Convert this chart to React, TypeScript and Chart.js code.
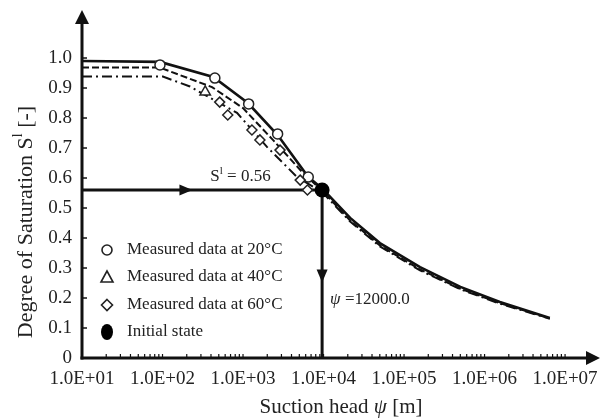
import React, { useEffect, useRef } from 'react';
import { Chart, registerables } from 'chart.js';

Chart.register(...registerables);

const FONT = '"Liberation Serif", "Times New Roman", serif';

// Axis ticks
const X_TICKS = [1e1, 1e2, 1e3, 1e4, 1e5, 1e6, 1e7];
const Y_TICKS = [0, 0.1, 0.2, 0.3, 0.4, 0.5, 0.6, 0.7, 0.8, 0.9, 1.0];

// Model curves (suction head psi [m], degree of saturation S)
const PSI_20C_MODEL = [10, 93, 427, 1150, 2690, 6460, 9600, 21400, 50100, 158000, 501000, 1550000, 6460000];
const S_20C_MODEL = [0.99, 0.987, 0.937, 0.85, 0.743, 0.603, 0.565, 0.467, 0.383, 0.303, 0.237, 0.187, 0.133];
const PSI_40C_MODEL = [10, 93, 412, 1000, 2350, 5560, 9600, 21400, 50100, 158000, 501000, 1550000, 6460000];
const S_40C_MODEL = [0.968, 0.968, 0.903, 0.833, 0.727, 0.617, 0.558, 0.458, 0.375, 0.295, 0.231, 0.183, 0.132];
const PSI_60C_MODEL = [10, 101, 219, 842, 1995, 4700, 9600, 21400, 50100, 158000, 501000, 1550000, 6460000];
const S_60C_MODEL = [0.938, 0.938, 0.905, 0.817, 0.703, 0.603, 0.553, 0.455, 0.372, 0.292, 0.229, 0.181, 0.131];

// Measured data
const PSI_20C = [93, 447, 1175, 2690, 6460];
const S_20C = [0.977, 0.933, 0.847, 0.747, 0.603];
const PSI_40C = [339];
const S_40C = [0.887];
const PSI_60C = [513, 646, 1290, 1620, 2880, 5130, 6310];
const S_60C = [0.853, 0.81, 0.76, 0.727, 0.693, 0.593, 0.56];

// Initial state
const INITIAL_PSI = 9600;
const INITIAL_S = 0.56;

const LEGEND_LABELS = ['Measured data at 20°C', 'Measured data at 40°C', 'Measured data at 60°C', 'Initial state'];

const zip = (xs: number[], ys: number[]) => xs.map((x, i) => ({ x, y: ys[i] }));

type Seg = { t: string; sup?: boolean; italic?: boolean };

function drawRich(ctx: CanvasRenderingContext2D, segs: Seg[], x: number, y: number, align: 'left' | 'center', size: number) {
  const fontFor = (s: Seg) => `${s.italic ? 'italic ' : ''}${s.sup ? Math.round(size * 0.62) : size}px ${FONT}`;
  const widths = segs.map((s) => {
    ctx.font = fontFor(s);
    return ctx.measureText(s.t).width;
  });
  const total = widths.reduce((a, b) => a + b, 0);
  let cx = align === 'center' ? x - total / 2 : x;
  ctx.textAlign = 'left';
  ctx.textBaseline = 'middle';
  segs.forEach((s, i) => {
    ctx.font = fontFor(s);
    ctx.fillText(s.t, cx, s.sup ? y - size * 0.33 : y);
    cx += widths[i];
  });
}

const decorPlugin = {
  id: 'decor',
  afterDraw(chart: any) {
    const { ctx, chartArea: ca, scales } = chart;
    const xs = scales.x;
    const ys = scales.y;
    ctx.save();
    ctx.strokeStyle = '#111';
    ctx.fillStyle = '#111';

    // Axes
    ctx.lineWidth = 3;
    ctx.beginPath();
    ctx.moveTo(ca.left, ca.bottom + 1.5);
    ctx.lineTo(ca.left, ca.top + 8);
    ctx.stroke();
    ctx.beginPath();
    ctx.moveTo(ca.left - 1.5, ca.bottom);
    ctx.lineTo(ca.right - 4, ca.bottom);
    ctx.stroke();
    // arrow heads
    ctx.beginPath();
    ctx.moveTo(ca.left, ca.top - 4);
    ctx.lineTo(ca.left - 7, ca.top + 10);
    ctx.lineTo(ca.left + 7, ca.top + 10);
    ctx.closePath();
    ctx.fill();
    ctx.beginPath();
    ctx.moveTo(ca.right + 8, ca.bottom);
    ctx.lineTo(ca.right - 6, ca.bottom - 7);
    ctx.lineTo(ca.right - 6, ca.bottom + 7);
    ctx.closePath();
    ctx.fill();

    // y tick marks (inside)
    ctx.lineWidth = 1.5;
    Y_TICKS.forEach((v) => {
      if (v === 0) return;
      const py = ys.getPixelForValue(v);
      ctx.beginPath();
      ctx.moveTo(ca.left, py);
      ctx.lineTo(ca.left + 5, py);
      ctx.stroke();
    });
    // x minor tick marks (inside)
    ctx.lineWidth = 1.2;
    for (let k = 1; k <= 6; k++) {
      for (let m = 1; m <= 9; m++) {
        const v = m * Math.pow(10, k);
        if (v === 10) continue;
        const px = xs.getPixelForValue(v);
        ctx.beginPath();
        ctx.moveTo(px, ca.bottom);
        ctx.lineTo(px, ca.bottom - 4);
        ctx.stroke();
      }
    }
    {
      const px = xs.getPixelForValue(1e7);
      ctx.beginPath();
      ctx.moveTo(px, ca.bottom);
      ctx.lineTo(px, ca.bottom - 4);
      ctx.stroke();
    }

    // Guide arrow heads
    const px0 = xs.getPixelForValue(INITIAL_PSI);
    const py0 = ys.getPixelForValue(INITIAL_S);
    const hx = ca.left + 0.46 * (px0 - ca.left);
    ctx.beginPath();
    ctx.moveTo(hx, py0);
    ctx.lineTo(hx - 13, py0 - 5.5);
    ctx.lineTo(hx - 13, py0 + 5.5);
    ctx.closePath();
    ctx.fill();
    const vy = py0 + 0.55 * (ca.bottom - py0);
    ctx.beginPath();
    ctx.moveTo(px0, vy);
    ctx.lineTo(px0 - 5.5, vy - 13);
    ctx.lineTo(px0 + 5.5, vy - 13);
    ctx.closePath();
    ctx.fill();

    // Annotations
    ctx.fillStyle = '#222';
    drawRich(ctx, [{ t: 'S' }, { t: 'l', sup: true }, { t: ' = 0.56' }], ca.left + 0.66 * (px0 - ca.left), py0 - 13, 'center', 17);
    drawRich(ctx, [{ t: 'ψ', italic: true }, { t: ' =12000.0' }], px0 + 8, ys.getPixelForValue(0.194), 'left', 17);

    // Legend
    const legY = [250, 277, 305, 332];
    const mx = 107;
    ctx.lineWidth = 1.6;
    ctx.strokeStyle = '#222';
    // circle
    ctx.beginPath();
    ctx.arc(mx, legY[0], 5, 0, Math.PI * 2);
    ctx.fillStyle = '#fff';
    ctx.fill();
    ctx.stroke();
    // triangle
    ctx.beginPath();
    ctx.moveTo(mx, legY[1] - 6);
    ctx.lineTo(mx - 6, legY[1] + 5);
    ctx.lineTo(mx + 6, legY[1] + 5);
    ctx.closePath();
    ctx.stroke();
    // diamond
    ctx.beginPath();
    ctx.moveTo(mx, legY[2] - 5.5);
    ctx.lineTo(mx + 5.5, legY[2]);
    ctx.lineTo(mx, legY[2] + 5.5);
    ctx.lineTo(mx - 5.5, legY[2]);
    ctx.closePath();
    ctx.stroke();
    // filled circle
    ctx.beginPath();
    ctx.fillStyle = '#000';
    ctx.ellipse(mx, legY[3], 6, 8, 0, 0, Math.PI * 2);
    ctx.fill();
    ctx.fillStyle = '#222';
    LEGEND_LABELS.forEach((lab, i) => {
      drawRich(ctx, [{ t: lab }], 127, legY[i], 'left', 17);
    });

    // Axis titles
    drawRich(ctx, [{ t: 'Suction head ' }, { t: 'ψ', italic: true }, { t: ' [m]' }], (ca.left + ca.right + 8) / 2, 407, 'center', 21);
    ctx.save();
    ctx.translate(26, 222);
    ctx.rotate(-Math.PI / 2);
    drawRich(ctx, [{ t: 'Degree of Saturation S' }, { t: 'l', sup: true }, { t: ' [-]' }], 0, 0, 'center', 22);
    ctx.restore();

    ctx.restore();
  },
};

export default function App() {
  const ref = useRef<HTMLCanvasElement | null>(null);

  useEffect(() => {
    document.body.style.margin = '0';
    const canvas = ref.current;
    if (!canvas) return;
    const lineBase = { showLine: true, pointRadius: 0, borderColor: '#111', fill: false, tension: 0 };
    const chart = new Chart(canvas, {
      type: 'scatter',
      data: {
        datasets: [
          { ...lineBase, label: 'Model 20°C', data: zip(PSI_20C_MODEL, S_20C_MODEL), borderWidth: 2.6, order: 8 },
          { ...lineBase, label: 'Model 40°C', data: zip(PSI_40C_MODEL, S_40C_MODEL), borderWidth: 2, borderDash: [7, 3], order: 9 },
          { ...lineBase, label: 'Model 60°C', data: zip(PSI_60C_MODEL, S_60C_MODEL), borderWidth: 2, borderDash: [10, 4, 2, 4], order: 10 },
          {
            ...lineBase,
            label: 'guide S',
            data: [{ x: 10, y: INITIAL_S }, { x: INITIAL_PSI, y: INITIAL_S }],
            borderWidth: 3,
            order: 6,
          },
          {
            ...lineBase,
            label: 'guide psi',
            data: [{ x: INITIAL_PSI, y: INITIAL_S }, { x: INITIAL_PSI, y: 0 }],
            borderWidth: 3,
            order: 7,
          },
          {
            label: LEGEND_LABELS[0],
            data: zip(PSI_20C, S_20C),
            showLine: false,
            pointStyle: 'circle',
            pointRadius: 5,
            pointBackgroundColor: '#fff',
            pointBorderColor: '#222',
            pointBorderWidth: 1.5,
            order: 3,
          },
          {
            label: LEGEND_LABELS[1],
            data: zip(PSI_40C, S_40C),
            showLine: false,
            pointStyle: 'triangle',
            pointRadius: 6,
            pointBackgroundColor: '#fff',
            pointBorderColor: '#222',
            pointBorderWidth: 1.5,
            order: 4,
          },
          {
            label: LEGEND_LABELS[2],
            data: zip(PSI_60C, S_60C),
            showLine: false,
            pointStyle: 'rectRot',
            pointRadius: 5,
            pointBackgroundColor: '#fff',
            pointBorderColor: '#222',
            pointBorderWidth: 1.5,
            order: 2,
          },
          {
            label: LEGEND_LABELS[3],
            data: [{ x: INITIAL_PSI, y: INITIAL_S }],
            showLine: false,
            pointStyle: 'circle',
            pointRadius: 7.5,
            pointBackgroundColor: '#000',
            pointBorderColor: '#000',
            pointBorderWidth: 0,
            order: 0,
          },
        ] as any,
      },
      options: {
        responsive: false,
        maintainAspectRatio: false,
        animation: false,
        events: [],
        layout: { padding: { left: 0, right: 22, top: 14, bottom: 0 } },
        plugins: { legend: { display: false }, tooltip: { enabled: false }, title: { display: false } },
        scales: {
          x: {
            type: 'logarithmic',
            min: 10,
            max: 2.16e7,
            grid: { display: false, drawTicks: false },
            border: { display: false },
            afterBuildTicks: (s: any) => {
              s.ticks = X_TICKS.map((v) => ({ value: v }));
            },
            afterFit: (s: any) => {
              s.height = 61;
              s.paddingLeft = 0;
              s.paddingRight = 0;
              s.paddingTop = 0;
              s.paddingBottom = 0;
            },
            ticks: {
              autoSkip: false,
              maxRotation: 0,
              minRotation: 0,
              padding: 10,
              color: '#222',
              font: { family: FONT, size: 19 },
              callback: (v: any) => '1.0E+' + String(Math.round(Math.log10(Number(v)))).padStart(2, '0'),
            },
          },
          y: {
            type: 'linear',
            min: 0,
            max: 1.1467,
            grid: { display: false, drawTicks: false },
            border: { display: false },
            afterBuildTicks: (s: any) => {
              s.ticks = Y_TICKS.map((v) => ({ value: v }));
            },
            afterFit: (s: any) => {
              s.width = 82;
              s.paddingLeft = 0;
              s.paddingRight = 0;
              s.paddingTop = 0;
              s.paddingBottom = 0;
            },
            ticks: {
              autoSkip: false,
              padding: 10,
              color: '#222',
              font: { family: FONT, size: 19 },
              callback: (v: any) => (Number(v) === 0 ? '0' : Number(v).toFixed(1)),
            },
          },
        },
      } as any,
      plugins: [decorPlugin],
    });
    return () => chart.destroy();
  }, []);

  return (
    <div style={{ width: 614, height: 419, background: '#fff' }}>
      <canvas ref={ref} width={614} height={419} style={{ display: 'block' }} />
    </div>
  );
}
